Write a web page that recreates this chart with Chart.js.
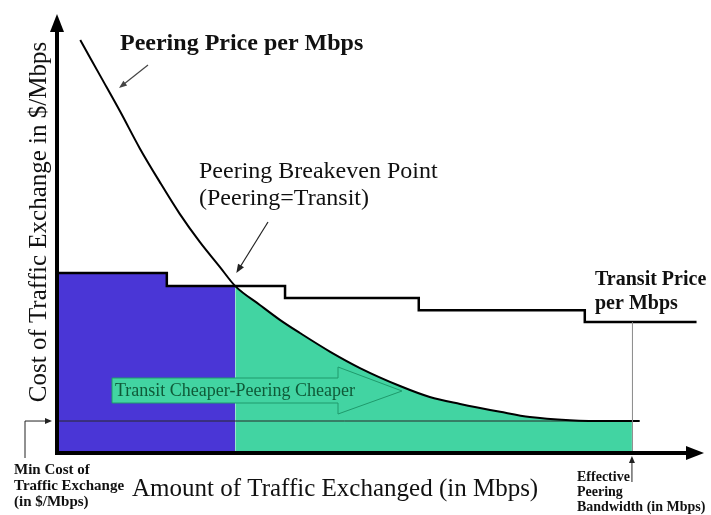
<!DOCTYPE html>
<html><head><meta charset="utf-8">
<script src="https://cdn.jsdelivr.net/npm/chart.js@4"></script>
<style>html,body{margin:0;padding:0;background:#fff}#wrap{width:711px;height:515px}</style>
</head><body><div id="wrap"><canvas id="c" width="711" height="515"></canvas></div>
<script>
// Values (x: traffic, 0-100 scale; y: cost, 0-100 scale)
const peeringX = [3.6, 6.7, 9.8, 12.8, 15.9, 19.0, 22.1, 25.2, 27.6, 31.4, 34.5, 37.6, 42.3, 46.9, 53.1, 57.7, 62.4, 68.6, 73.2, 79.4, 85.6, 90.2];
const peeringY = [94.3, 86.1, 77.9, 69.6, 61.9, 54.6, 48.2, 42.5, 38.1, 33.8, 30.4, 27.4, 23.1, 19.4, 15.3, 12.8, 11.2, 9.4, 8.2, 7.5, 7.3, 7.3];
const transitX = [0, 17.0, 35.3, 56.0, 81.7, 99.0];
const transitY = [41.1, 38.1, 35.4, 32.6, 29.9, 29.9];
const minCost = 7.3;
const breakevenX = 27.6;
const breakevenY = 38.1;
const effectiveX = 89.0;

const BLUE = 'rgb(74,54,214)';
const GREEN = 'rgb(66,212,162)';
const SERIF = '"Liberation Serif", "DejaVu Serif", serif';

const pts = (xs, ys) => xs.map((x, i) => ({x, y: ys[i]}));
const peering = pts(peeringX, peeringY);
const transit = pts(transitX, transitY);
const blueData = transit.filter(p => p.x < breakevenX).concat([{x: breakevenX, y: breakevenY}]);
const greenData = peering.filter(p => p.x >= breakevenX && p.x < effectiveX).concat([{x: effectiveX, y: minCost}]);
const minCostData = [{x: 0, y: minCost}, {x: effectiveX, y: minCost}];

function arrowHead(ctx, x1, y1, x2, y2, len, wid) {
  const a = Math.atan2(y2 - y1, x2 - x1);
  ctx.beginPath();
  ctx.moveTo(x2, y2);
  ctx.lineTo(x2 - len * Math.cos(a) + wid * Math.sin(a), y2 - len * Math.sin(a) - wid * Math.cos(a));
  ctx.lineTo(x2 - len * Math.cos(a) - wid * Math.sin(a), y2 - len * Math.sin(a) + wid * Math.cos(a));
  ctx.closePath();
  ctx.fill();
}
function arrow(ctx, x1, y1, x2, y2, color, lw, len, wid) {
  ctx.save();
  ctx.strokeStyle = color; ctx.fillStyle = color; ctx.lineWidth = lw;
  const a = Math.atan2(y2 - y1, x2 - x1);
  ctx.beginPath(); ctx.moveTo(x1, y1); ctx.lineTo(x2 - len * 0.8 * Math.cos(a), y2 - len * 0.8 * Math.sin(a)); ctx.stroke();
  arrowHead(ctx, x1, y1, x2, y2, len, wid);
  ctx.restore();
}

const deco = {
  id: 'deco',
  afterDatasetsDraw(chart) {
    const ctx = chart.ctx, xs = chart.scales.x, ys = chart.scales.y;
    const x0 = xs.getPixelForValue(0), y0 = ys.getPixelForValue(0);
    const ex = xs.getPixelForValue(effectiveX);
    const mc = ys.getPixelForValue(minCost);
    ctx.save();
    // effective bandwidth vertical guide
    ctx.strokeStyle = '#8a8a8a'; ctx.lineWidth = 1;
    ctx.beginPath(); ctx.moveTo(ex + 0.5, ys.getPixelForValue(transitY[transitY.length - 1])); ctx.lineTo(ex + 0.5, y0); ctx.stroke();
    // axes
    ctx.strokeStyle = '#000'; ctx.fillStyle = '#000'; ctx.lineWidth = 4;
    ctx.beginPath(); ctx.moveTo(x0, y0 + 2); ctx.lineTo(x0, chart.chartArea.top + 14); ctx.stroke();
    arrowHead(ctx, x0, y0, x0, chart.chartArea.top - 1, 18, 7);
    ctx.beginPath(); ctx.moveTo(x0 - 2, y0); ctx.lineTo(chart.chartArea.right - 14, y0); ctx.stroke();
    arrowHead(ctx, x0, y0, chart.chartArea.right + 1, y0, 18, 7);
    // min cost pointer
    ctx.strokeStyle = '#222'; ctx.lineWidth = 1;
    ctx.beginPath(); ctx.moveTo(25, 458); ctx.lineTo(25, mc); ctx.lineTo(46, mc); ctx.stroke();
    ctx.fillStyle = '#222'; arrowHead(ctx, 25, mc, 52, mc, 7, 3);
    // effective pointer
    ctx.beginPath(); ctx.moveTo(ex, 482); ctx.lineTo(ex, 462); ctx.stroke();
    arrowHead(ctx, ex, 482, ex, 456, 7, 3);
    // block arrow
    ctx.beginPath();
    ctx.moveTo(112, 378); ctx.lineTo(338, 378); ctx.lineTo(338, 367); ctx.lineTo(402, 391);
    ctx.lineTo(338, 414); ctx.lineTo(338, 403); ctx.lineTo(112, 403); ctx.closePath();
    ctx.fillStyle = GREEN; ctx.fill();
    ctx.strokeStyle = '#1f9a6c'; ctx.lineWidth = 1; ctx.stroke();
    ctx.fillStyle = '#0f5a38'; ctx.font = '18px ' + SERIF; ctx.textBaseline = 'middle'; ctx.textAlign = 'left';
    ctx.fillText('Transit Cheaper-Peering Cheaper', 115, 391);
    // pointers
    arrow(ctx, 148, 65, 119, 88, '#444', 1.2, 8, 3);
    arrow(ctx, 268, 222, xs.getPixelForValue(breakevenX) + 1, ys.getPixelForValue(breakevenY) - 13, '#222', 1.2, 9, 3.5);
    // texts
    ctx.fillStyle = '#111';
    ctx.font = 'bold 24px ' + SERIF;
    ctx.fillText('Peering Price per Mbps', 120, 44);
    ctx.font = '24px ' + SERIF;
    ctx.fillText('Peering Breakeven Point', 199, 172);
    ctx.fillText('(Peering=Transit)', 199, 199);
    ctx.font = 'bold 20px ' + SERIF;
    ctx.fillText('Transit Price', 595, 280);
    ctx.fillText('per Mbps', 595, 304);
    ctx.font = '25px ' + SERIF;
    ctx.fillText('Amount of Traffic Exchanged (in Mbps)', 132, 489);
    ctx.font = 'bold 15px ' + SERIF;
    ctx.fillText('Min Cost of', 14, 470);
    ctx.fillText('Traffic Exchange', 14, 486);
    ctx.fillText('(in $/Mbps)', 14, 502);
    ctx.font = 'bold 14px ' + SERIF;
    ctx.fillText('Effective', 577, 477);
    ctx.fillText('Peering', 577, 492);
    ctx.fillText('Bandwidth (in Mbps)', 577, 507);
    ctx.save();
    ctx.translate(39, 222); ctx.rotate(-Math.PI / 2);
    ctx.textAlign = 'center'; ctx.font = '25px ' + SERIF;
    ctx.fillText('Cost of Traffic Exchange in $/Mbps', 0, 0);
    ctx.restore();
    ctx.restore();
  }
};

new Chart(document.getElementById('c'), {
  type: 'line',
  data: {
    datasets: [
      {label: 'Transit cheaper', data: blueData, stepped: true, fill: 'origin', backgroundColor: BLUE, borderColor: '#1c1760', borderWidth: 1.5, pointRadius: 0, order: 6},
      {label: 'Peering cheaper', data: greenData, cubicInterpolationMode: 'monotone', fill: 'origin', backgroundColor: GREEN, borderColor: 'rgba(0,0,0,0)', borderWidth: 0, pointRadius: 0, order: 5},
      {label: 'Min cost', data: minCostData, fill: false, borderColor: '#2a2a2a', borderWidth: 1, pointRadius: 0, order: 4},
      {label: 'Transit Price per Mbps', data: transit, stepped: true, fill: false, borderColor: '#000', borderWidth: 2.5, pointRadius: 0, order: 2},
      {label: 'Peering Price per Mbps', data: peering, cubicInterpolationMode: 'monotone', fill: false, borderColor: '#000', borderWidth: 2, pointRadius: 0, order: 1}
    ]
  },
  options: {
    responsive: false, animation: false, devicePixelRatio: 1,
    layout: {padding: {left: 57, right: 8, top: 15, bottom: 62}},
    scales: {
      x: {type: 'linear', min: 0, max: 100, display: false},
      y: {type: 'linear', min: 0, max: 100, display: false}
    },
    plugins: {legend: {display: false}, tooltip: {enabled: false}, title: {display: false}}
  },
  plugins: [deco]
});
</script>
</body></html>
